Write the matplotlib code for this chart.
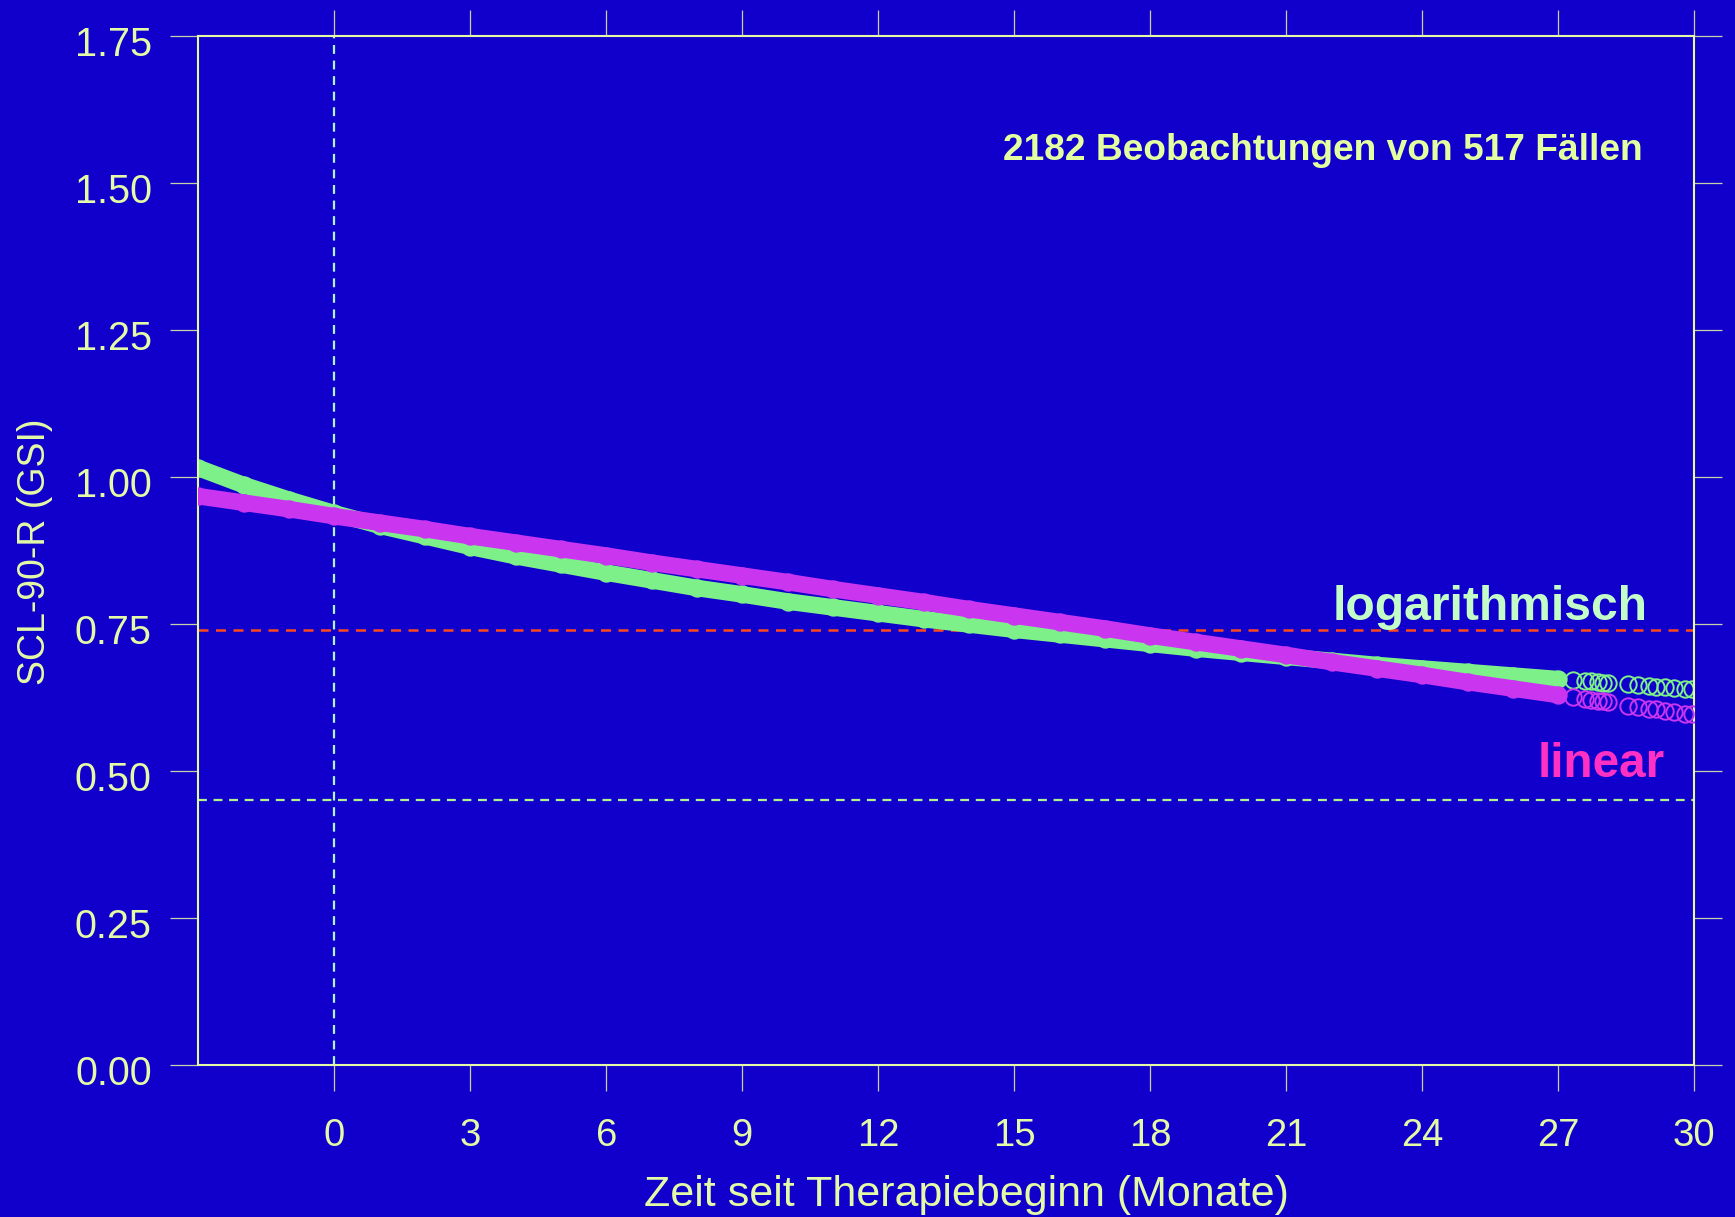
import matplotlib
matplotlib.use("Agg")
import matplotlib.pyplot as plt
import matplotlib.transforms as mtransforms
import numpy as np

plt.rcParams['font.family'] = ['Liberation Sans', 'DejaVu Sans']

# ---- data (fitted values) ----
months = [-3, -2, -1, 0, 1, 2, 3, 4, 5, 6, 7, 8, 9, 10, 11, 12, 13, 14, 15,
          16, 17, 18, 19, 20, 21, 22, 23, 24, 25, 26, 27,
          27.33, 27.6, 27.72, 27.87, 27.98, 28.1,
          28.55, 28.75, 29.0, 29.15, 29.35, 29.55, 29.8, 29.95]
gsi_log = [1.015, 0.986, 0.961, 0.938, 0.917, 0.899, 0.881, 0.865, 0.851,
           0.837, 0.824, 0.811, 0.800, 0.788, 0.778, 0.768, 0.758, 0.749,
           0.740, 0.732, 0.724, 0.716, 0.708, 0.701, 0.694, 0.687, 0.680,
           0.674, 0.668, 0.662, 0.656,
           0.654, 0.652, 0.652, 0.651, 0.650, 0.649,
           0.647, 0.646, 0.644, 0.643, 0.642, 0.641, 0.640, 0.639]
gsi_lin = [0.967, 0.956, 0.945, 0.933, 0.922, 0.911, 0.899, 0.888, 0.877,
           0.866, 0.854, 0.843, 0.832, 0.821, 0.809, 0.798, 0.787, 0.775,
           0.764, 0.753, 0.742, 0.730, 0.719, 0.708, 0.697, 0.685, 0.674,
           0.663, 0.651, 0.640, 0.629,
           0.625, 0.622, 0.621, 0.619, 0.618, 0.617,
           0.611, 0.609, 0.606, 0.605, 0.602, 0.600, 0.597, 0.596]
dense_until = 27          # observations are dense up to this month
ref_upper = 0.74
ref_lower = 0.45
therapy_start = 0
x_ticks = list(range(0, 31, 3))
y_ticks = [0.00, 0.25, 0.50, 0.75, 1.00, 1.25, 1.50, 1.75]

BG = '#1100CC'
FG = '#E4FAA6'
GREEN = '#7EF08A'
MAGENTA = '#CA36F0'

fig = plt.figure(figsize=(17.35, 12.17), dpi=100, facecolor=BG)
ax = fig.add_axes([0.1143, 0.1249, 0.9765 - 0.1143, 0.9707 - 0.1249])
ax.set_facecolor(BG)

t = np.array(months)
yl = np.array(gsi_log)
yn = np.array(gsi_lin)
dense = t <= dense_until

# reference lines
ax.axvline(therapy_start, color='#B0F2DC', lw=1.6, ls=(0, (4, 3)), zorder=1)
ax.axhline(ref_upper, color='#FF4A1A', lw=1.8, ls=(0, (4, 3)), zorder=1)
ax.axhline(ref_lower, color='#B0F290', lw=1.6, ls=(0, (4, 3)), zorder=1)

# logarithmic fit (drawn first)
ax.plot(t[dense], yl[dense], color=GREEN, lw=12, solid_capstyle='round', zorder=2)
ax.plot(t, yl, ls='none', marker='o', ms=11.8, mfc='none', mec=GREEN, mew=1.4, zorder=2)
# linear fit on top
ax.plot(t[dense], yn[dense], color=MAGENTA, lw=12, solid_capstyle='round', zorder=3)
ax.plot(t, yn, ls='none', marker='o', ms=11.8, mfc='none', mec=MAGENTA, mew=1.4, zorder=3)

ax.set_xlim(-3, 30)
ax.set_ylim(0, 1.75)
ax.set_xticks(x_ticks)
ax.set_yticks(y_ticks)
ax.set_yticklabels([f'{v:.2f}' for v in y_ticks])

for s in ax.spines.values():
    s.set_color(FG)
    s.set_linewidth(1.5)

ax.tick_params(axis='both', which='both', direction='out', color='#C8D0A8',
               width=0.9, labelcolor=FG,
               top=True, right=True, labeltop=False, labelright=False)
ax.tick_params(axis='x', length=19, pad=19, labelsize=27.5)
ax.tick_params(axis='y', length=20, pad=13.5, labelsize=28.5)

shift = mtransforms.ScaledTranslation(0, -3.5 / 72, fig.dpi_scale_trans)
for lab in ax.get_yticklabels():
    lab.set_transform(lab.get_transform() + shift)

fig.text(0.5568, 0.0178, 'Zeit seit Therapiebeginn (Monate)', color=FG,
         fontsize=31, ha='center', va='center')
fig.text(0.0202, 0.547, 'SCL-90-R (GSI)', color=FG, fontsize=27,
         rotation=90, ha='center', va='center')

ax.text(0.9658, 0.8792, '2182 Beobachtungen von 517 Fällen', transform=ax.transAxes,
        color='#E4FFA0', fontsize=26.7, fontweight='bold', ha='right', va='baseline')
ax.text(0.9690, 0.4323, 'logarithmisch', transform=ax.transAxes,
        color='#C4FCC8', fontsize=34.6, fontweight='bold', ha='right', va='baseline')
ax.text(0.9805, 0.2798, 'linear', transform=ax.transAxes,
        color='#FF30C4', fontsize=34.3, fontweight='bold', ha='right', va='baseline')

fig.savefig('out.png', dpi=100, facecolor=BG)
